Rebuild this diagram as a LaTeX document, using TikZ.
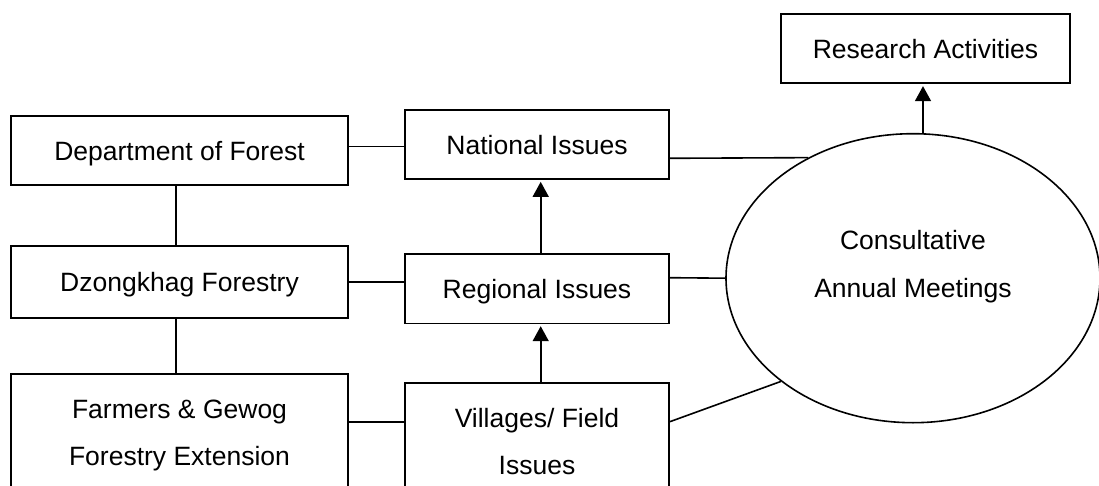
\documentclass[tikz,border=0pt]{standalone}
\usepackage{fontspec}
\setmainfont{Liberation Sans}
\usetikzlibrary{arrows.meta,shapes.geometric}
\begin{document}
\begin{tikzpicture}[x=1pt,y=-1pt,
  every node/.style={font=\fontsize{26.5}{47.3}\selectfont, inner sep=0pt, text depth=0pt, align=center},
  box/.style={draw, line width=1.7pt, minimum width=#1},
  box/.default=337pt,
  lnk/.style={line width=1.6pt},
  arr/.style={line width=1.6pt, -{Triangle[width=16pt,length=15pt]}, shorten >=2pt}]
\useasboundingbox (0,0) rectangle (1099,486);
\clip (0,0) rectangle (1099,486);
% left column
\node[box, minimum height=69pt] (dept) at (179.5,150.5) {Department of Forest};
\node[box, minimum height=72pt] (dz) at (179.5,282) {Dzongkhag Forestry};
\node[box, minimum height=117.4pt] (farm) at (179.5,432.7) {Farmers \& Gewog\\Forestry Extension};
% middle column
\node[box=264pt, minimum height=69pt] (nat) at (537,144.5) {National Issues};
\node[box=264pt, minimum height=69.3pt] (reg) at (537,288.7) {Regional Issues};
\node[box=264pt, minimum height=117.6pt] (vil) at (537,441.5) {Villages/ Field\\Issues};
% right
\node[box=289pt, minimum height=69.6pt] (res) at (925.5,48.5) {Research Activities};
\node[draw, ellipse, line width=1.6pt, minimum width=374pt, minimum height=289pt] (ell) at (913,278.2) {};
\node (ellt) at (913,263.8) {Consultative\\Annual Meetings};
% connectors
\draw[lnk] ([xshift=-3.8pt]dept.south) -- ([xshift=-3.8pt]dz.north);
\draw[lnk] ([xshift=-3.8pt]dz.south) -- ([xshift=-3.8pt]farm.north);
\draw[lnk] ([yshift=3.8pt]dept.east) -- ([yshift=3.8pt]dept.east -| nat.west);
\draw[lnk] (dz.east) -- (dz.east -| reg.west);
\draw[lnk] ([yshift=11pt]farm.east) -- ([yshift=11pt]farm.east -| vil.west);
\draw[arr] ([xshift=3.7pt]reg.north) -- ([xshift=3.7pt]nat.south);
\draw[arr] ([xshift=3.7pt]vil.north) -- ([xshift=3.7pt]reg.south);
\draw[lnk] ([yshift=-13.8pt]nat.east) -- (ell.131);
\draw[lnk] ([yshift=11pt]reg.east) -- (ell.west);
\draw[lnk] ([yshift=19.8pt]vil.east) -- (ell.218);
\draw[arr] ([xshift=10pt]ell.north) -- ([xshift=10pt]ell.north |- res.south);
\end{tikzpicture}
\end{document}
